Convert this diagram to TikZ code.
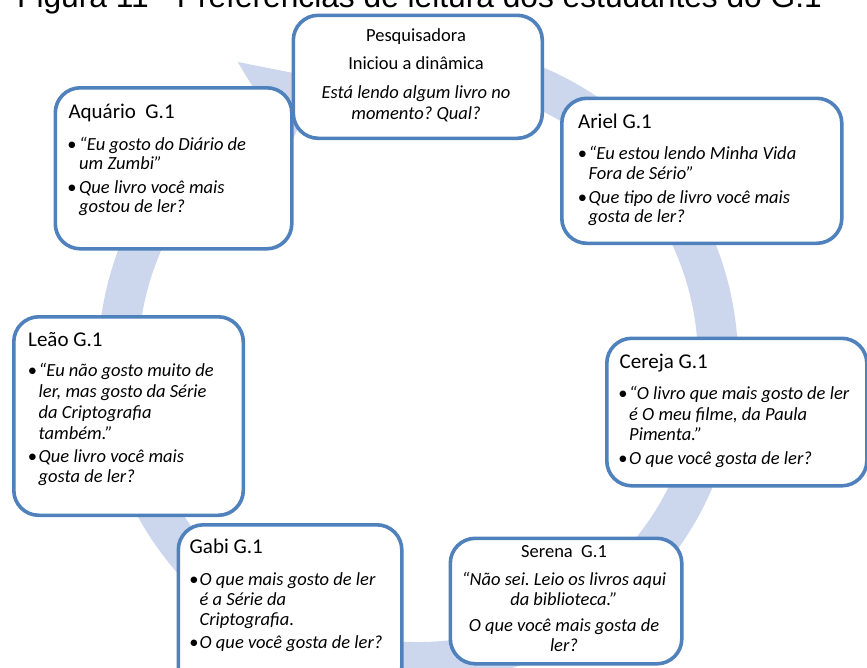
\documentclass[tikz,border=0pt]{standalone}
\usepackage{fontspec}
\setmainfont{Carlito}
\newfontfamily\arialf{Liberation Sans}
\definecolor{boxblue}{RGB}{79,129,189}
\definecolor{ringblue}{RGB}{204,215,237}
\frenchspacing
\tikzset{
  card/.style={draw=boxblue, line width=3.6pt, fill=white, rounded corners=25pt, inner sep=0pt, anchor=north west},
  ttl/.style={inner sep=0pt, anchor=base west, font=\fontsize{21}{24}\selectfont},
  ln/.style={inner sep=0pt, anchor=base west, font=\fontsize{18.5}{21}\selectfont\itshape},
  cln/.style={inner sep=0pt, anchor=base, font=\fontsize{18.5}{21}\selectfont},
  cit/.style={inner sep=0pt, anchor=base, font=\fontsize{18.5}{21}\selectfont\itshape},
  bul/.style={inner sep=0pt, anchor=base, font=\fontsize{18.5}{21}\selectfont},
}
\begin{document}
\begin{tikzpicture}[x=1pt,y=1pt]
\useasboundingbox (0,0) rectangle (867,-667);
\clip (0,0) rectangle (867,-667);
\fill[white] (0,0) rectangle (867,-667);

% title (cut off at the top)
\node[anchor=base west, inner sep=0pt, font=\arialf\fontsize{31.7}{36}\selectfont] (title) at (17,-7.5) {Figura 11 - Preferências de leitura dos estudantes do G.1};

% circular arrow
\coordinate (rc) at (418,-362);
\fill[ringblue] ([shift={(rc)}]80:320pt) arc[start angle=80,end angle=-239,radius=320pt]
  -- ([shift={(rc)}]-239:350pt) -- ([shift={(rc)}]-251:300pt) -- ([shift={(rc)}]-239:250pt)
  -- ([shift={(rc)}]-239:280pt) arc[start angle=-239,end angle=80,radius=280pt] -- cycle;

% boxes
\node[card, minimum width=249pt, minimum height=123pt] (pesq) at (291.5,-13.5) {};
\node[card, minimum width=236.5pt, minimum height=161pt] (aqua) at (53.5,-86) {};
\node[card, minimum width=280pt, minimum height=145pt] (ariel) at (560,-96.5) {};
\node[card, minimum width=229.5pt, minimum height=198.5pt] (leao) at (12,-315) {};
\node[card, minimum width=260pt, minimum height=147.5pt] (cereja) at (605,-336.5) {};
\node[card, minimum width=223.5pt, minimum height=167pt] (gabi) at (176.5,-523) {};
\node[card, minimum width=231.5pt, minimum height=125.5pt] (serena) at (448.5,-536.5) {};

% Pesquisadora
\node[cln] (p1) at (416,-41.7) {Pesquisadora};
\node[cln] (p2) at (416,-69.3) {Iniciou a dinâmica};
\node[cit] (p3) at (416,-98.3) {Está lendo algum livro no};
\node[cit] (p4) at (416,-119) {momento? Qual?};

% Aquario
\node[ttl] (a0) at (68.3,-118.3) {Aquário\ \ G.1};
\node[bul] (ab1) at (72,-150) {•};
\node[ln] (a1) at (79,-150) {“Eu gosto do Diário de};
\node[ln] (a2) at (79,-169.5) {um Zumbi”};
\node[bul] (ab2) at (72,-193) {•};
\node[ln] (a3) at (79,-193) {Que livro você mais};
\node[ln] (a4) at (79,-212.5) {gostou de ler?};

% Ariel
\node[ttl] (r0) at (578,-128.3) {Ariel G.1};
\node[bul] (rb1) at (582.5,-159.3) {•};
\node[ln] (r1) at (588.5,-159.3) {“Eu estou lendo Minha Vida};
\node[ln] (r2) at (588.5,-179.3) {Fora de Sério”};
\node[bul] (rb2) at (582.5,-203.3) {•};
\node[ln] (r3) at (588.5,-203.3) {Que tipo de livro você mais};
\node[ln] (r4) at (588.5,-222.7) {gosta de ler?};

% Leao
\node[ttl] (l0) at (28,-346.7) {Leão G.1};
\node[bul] (lb1) at (32.5,-376.7) {•};
\node[ln] (l1) at (38.5,-376.7) {“Eu não gosto muito de};
\node[ln] (l2) at (38.5,-397.3) {ler, mas gosto da Série};
\node[ln] (l3) at (38.5,-418.3) {da Criptografia};
\node[ln] (l4) at (38.5,-439) {também.”};
\node[bul] (lb2) at (32.5,-462.3) {•};
\node[ln] (l5) at (38.5,-462.3) {Que livro você mais};
\node[ln] (l6) at (38.5,-482.7) {gosta de ler?};

% Cereja
\node[ttl] (c0) at (619.5,-368.3) {Cereja G.1};
\node[bul] (cb1) at (623,-399.3) {•};
\node[ln] (c1) at (629,-399.3) {“O livro que mais gosto de ler};
\node[ln] (c2) at (629,-420) {é O meu filme, da Paula};
\node[ln] (c3) at (629,-440) {Pimenta.”};
\node[bul] (cb2) at (623,-464) {•};
\node[ln] (c4) at (629,-464) {O que você gosta de ler?};

% Gabi
\node[ttl] (g0) at (189.5,-553.3) {Gabi G.1};
\node[bul] (gb1) at (194,-585) {•};
\node[ln] (g1) at (199.5,-585) {O que mais gosto de ler};
\node[ln] (g2) at (199.5,-605) {é a Série da};
\node[ln] (g3) at (199.5,-625) {Criptografia.};
\node[bul] (gb2) at (194,-648.3) {•};
\node[ln] (g4) at (199.5,-648.3) {O que você gosta de ler?};

% Serena
\node[cln] (s0) at (564,-557.3) {Serena\ \ G.1};
\node[cit] (s1) at (564,-585) {“Não sei. Leio os livros aqui};
\node[cit] (s2) at (564,-605) {da biblioteca.”};
\node[cit] (s3) at (564,-631.7) {O que você mais gosta de};
\node[cit] (s4) at (564,-651.7) {ler?};
\end{tikzpicture}
\end{document}
